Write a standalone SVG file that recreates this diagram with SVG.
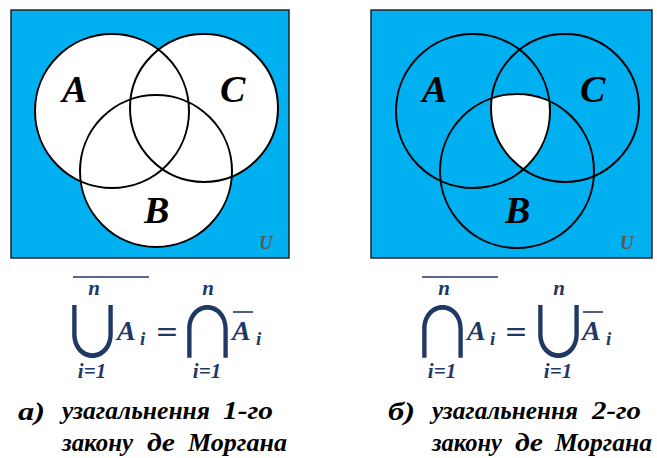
<svg xmlns="http://www.w3.org/2000/svg" width="657" height="458" viewBox="0 0 657 458">
<style>
.bg{fill:#00B0F0;stroke:#222;stroke-width:1.5}
.c{fill:none;stroke:#000;stroke-width:2}
.cw{fill:#fff;stroke:none}
.lbl{font-family:"Liberation Serif",serif;font-weight:bold;font-style:italic;font-size:38px;fill:#000}
.u{font-family:"Liberation Serif",serif;font-weight:bold;font-style:italic;font-size:19px;fill:#595959}
.m{font-family:"Liberation Serif","DejaVu Serif",serif;font-weight:bold;font-style:italic;fill:#1F3864}
.eq{font-family:"DejaVu Sans",sans-serif;font-size:28px;fill:#1F3864}
.op{font-family:"Noto Sans CJK JP","DejaVu Sans",sans-serif;font-size:60px;fill:#1F3864}
.ov{stroke:#1F3864;stroke-width:1.6}
.cap{font-family:"Liberation Serif",serif;font-weight:bold;font-style:italic;font-size:26px;fill:#000}
</style>
<defs>
<clipPath id="clipA"><circle cx="473" cy="111" r="77"/></clipPath>
<clipPath id="clipC"><circle cx="565" cy="108" r="74"/></clipPath>
</defs>
<g id="venn-left">
<rect class="bg" x="11" y="10" width="278" height="248"/>
<circle class="cw" cx="112" cy="111" r="77"/>
<circle class="cw" cx="204" cy="108" r="74"/>
<circle class="cw" cx="156" cy="171" r="76"/>
<g id="circle-A-left"><circle class="c" cx="112" cy="111" r="77"/><text class="lbl" x="62" y="102">A</text></g>
<g id="circle-C-left"><circle class="c" cx="204" cy="108" r="74"/><text class="lbl" x="220" y="102">C</text></g>
<g id="circle-B-left"><circle class="c" cx="156" cy="171" r="76"/><text class="lbl" x="144" y="223">B</text></g>
<text class="u" x="259" y="249">U</text>
</g>
<g id="venn-right">
<rect class="bg" x="371" y="10" width="281" height="248"/>
<g clip-path="url(#clipA)"><g clip-path="url(#clipC)"><circle class="cw" cx="517" cy="171" r="77"/></g></g>
<g id="circle-A-right"><circle class="c" cx="473" cy="111" r="77"/><text class="lbl" x="422" y="102">A</text></g>
<g id="circle-C-right"><circle class="c" cx="565" cy="108" r="74"/><text class="lbl" x="580" y="102">C</text></g>
<g id="circle-B-right"><circle class="c" cx="517" cy="171" r="77"/><text class="lbl" x="505" y="223">B</text></g>
<text class="u" x="620" y="249">U</text>
</g>
<g id="formula-left">
<line class="ov" x1="73" y1="277" x2="149" y2="277"/>
<text class="m" x="94" y="295" font-size="21" text-anchor="middle">n</text>
<text class="op" x="0" y="0" text-anchor="middle" transform="translate(92.5,358) scale(1.05,1.17)">∪</text>
<text class="m" x="92" y="378" font-size="21" text-anchor="middle">i=1</text>
<text class="m" x="117" y="340" font-size="28">A</text>
<text class="m" x="140" y="345" font-size="19">i</text>
<text class="eq" x="167" y="341" text-anchor="middle">=</text>
<text class="m" x="208" y="295" font-size="21" text-anchor="middle">n</text>
<text class="op" x="0" y="0" text-anchor="middle" transform="translate(207.5,358) scale(1.05,1.17)">∩</text>
<text class="m" x="207" y="378" font-size="21" text-anchor="middle">i=1</text>
<line class="ov" x1="233" y1="312" x2="253" y2="312"/>
<text class="m" x="232" y="340" font-size="28">A</text>
<text class="m" x="256" y="345" font-size="19">i</text>
</g>
<g id="formula-right">
<line class="ov" x1="422" y1="277" x2="498" y2="277"/>
<text class="m" x="444" y="295" font-size="21" text-anchor="middle">n</text>
<text class="op" x="0" y="0" text-anchor="middle" transform="translate(442.5,358) scale(1.05,1.17)">∩</text>
<text class="m" x="442" y="378" font-size="21" text-anchor="middle">i=1</text>
<text class="m" x="467" y="340" font-size="28">A</text>
<text class="m" x="490" y="345" font-size="19">i</text>
<text class="eq" x="516" y="341" text-anchor="middle">=</text>
<text class="m" x="559" y="295" font-size="21" text-anchor="middle">n</text>
<text class="op" x="0" y="0" text-anchor="middle" transform="translate(558.5,358) scale(1.05,1.17)">∪</text>
<text class="m" x="558" y="378" font-size="21" text-anchor="middle">i=1</text>
<line class="ov" x1="583" y1="312" x2="603" y2="312"/>
<text class="m" x="582" y="340" font-size="28">A</text>
<text class="m" x="606" y="345" font-size="19">i</text>
</g>
<g id="caption-left">
<text class="cap" x="18" y="420" font-size="31" textLength="27" lengthAdjust="spacingAndGlyphs">а)</text>
<text class="cap" x="62" y="419" textLength="148" lengthAdjust="spacingAndGlyphs">узагальнення</text>
<text class="cap" x="223" y="419" textLength="50" lengthAdjust="spacingAndGlyphs">1-го</text>
<text class="cap" x="62" y="451" textLength="71" lengthAdjust="spacingAndGlyphs">закону</text>
<text class="cap" x="147" y="451" textLength="28" lengthAdjust="spacingAndGlyphs">де</text>
<text class="cap" x="188" y="451" textLength="99" lengthAdjust="spacingAndGlyphs">Моргана</text>
</g>
<g id="caption-right">
<text class="cap" x="388" y="420" font-size="31" textLength="27" lengthAdjust="spacingAndGlyphs">б)</text>
<text class="cap" x="432" y="419" textLength="146" lengthAdjust="spacingAndGlyphs">узагальнення</text>
<text class="cap" x="592" y="419" textLength="49" lengthAdjust="spacingAndGlyphs">2-го</text>
<text class="cap" x="432" y="451" textLength="70" lengthAdjust="spacingAndGlyphs">закону</text>
<text class="cap" x="515" y="451" textLength="28" lengthAdjust="spacingAndGlyphs">де</text>
<text class="cap" x="555" y="451" textLength="97" lengthAdjust="spacingAndGlyphs">Моргана</text>
</g>
</svg>
